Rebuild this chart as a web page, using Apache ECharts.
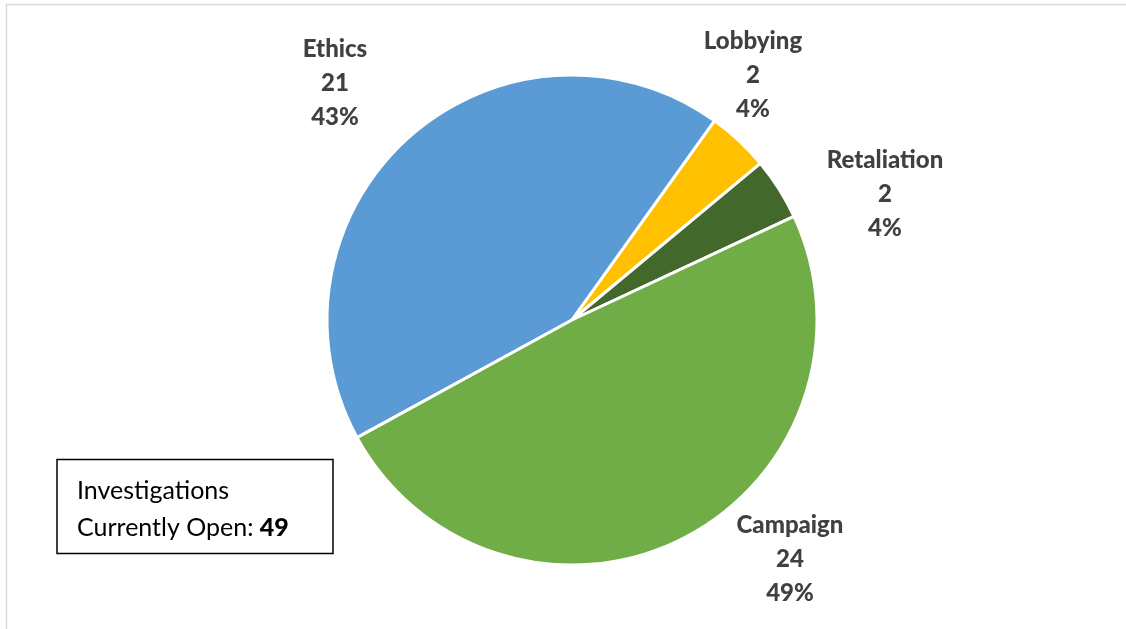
<!DOCTYPE html>
<html>
<head>
<meta charset="utf-8">
<style>
  html, body { margin: 0; padding: 0; background: #fff; }
  #chart { width: 1126px; height: 629px; }
</style>
<script src="https://cdn.jsdelivr.net/npm/echarts@6/dist/echarts.min.js"></script>
</head>
<body>
<div id="chart"></div>
<script>
// Open investigations by category
const categories = ['Ethics', 'Lobbying', 'Retaliation', 'Campaign'];
const counts = [21, 2, 2, 24];
const sliceColors = ['#5B9BD5', '#FFC000', '#43682B', '#70AD47'];

// Label anchor points (centre of each three-line label)
const labelAnchors = [
  [335, 83],
  [753, 75],
  [885, 194],
  [790, 559]
];

const total = counts.reduce((a, b) => a + b, 0);

const chart = echarts.init(document.getElementById('chart'), null, { renderer: 'canvas' });

chart.setOption({
  backgroundColor: '#ffffff',
  animation: false,
  color: sliceColors,
  graphic: [
    {
      type: 'rect',
      shape: { x: 6.5, y: 4.5, width: 1140, height: 640 },
      style: { fill: 'none', stroke: '#d9d9d9', lineWidth: 1.5 },
      silent: true,
      z: 0
    },
    {
      type: 'rect',
      shape: { x: 57, y: 459.5, width: 276, height: 94 },
      style: { fill: '#ffffff', stroke: '#000000', lineWidth: 1.5 },
      z: 10
    },
    {
      type: 'text',
      x: 77,
      y: 472,
      z: 11,
      style: {
        text: '{r|Investigations}\n{r|Currently Open: }{b|' + total + '}',
        rich: {
          r: { fontFamily: 'Lato', fontSize: 25, color: '#000000', lineHeight: 37 },
          b: { fontFamily: 'Lato', fontSize: 25, fontWeight: 900, color: '#000000', lineHeight: 37 }
        }
      }
    }
  ],
  series: [
    {
      type: 'pie',
      center: [572, 320],
      radius: 245,
      startAngle: 208.7,
      clockwise: true,
      percentPrecision: 0,
      itemStyle: { borderColor: '#ffffff', borderWidth: 3 },
      label: {
        show: true,
        position: 'outside',
        formatter: '{b}\n{c}\n{d}%',
        fontFamily: 'Lato',
        fontWeight: 900,
        fontSize: 24,
        lineHeight: 34,
        color: '#404040',
        align: 'center'
      },
      labelLine: { show: false },
      labelLayout: function (params) {
        const p = labelAnchors[params.dataIndex];
        return { x: p[0], y: p[1], align: 'center', verticalAlign: 'middle' };
      },
      emphasis: { disabled: true },
      data: categories.map((name, i) => ({ name: name, value: counts[i] }))
    }
  ]
});
</script>
</body>
</html>
